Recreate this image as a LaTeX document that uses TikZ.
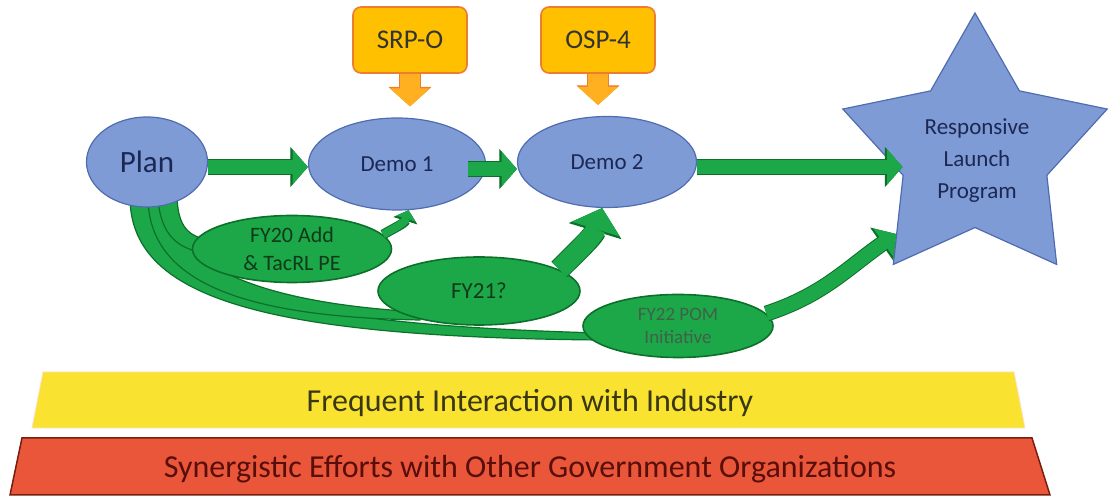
\documentclass[tikz,border=0pt]{standalone}
\usepackage{fontspec}
\setmainfont{Carlito}
\usetikzlibrary{shapes.geometric,arrows.meta,calc}
\pgfdeclarelayer{background}
\pgfsetlayers{background,main}

\definecolor{bubblefill}{RGB}{126,155,214}
\definecolor{bubbleedge}{RGB}{80,108,176}
\definecolor{navytext}{RGB}{28,40,84}
\definecolor{flowgreen}{RGB}{28,168,72}
\definecolor{flowedge}{RGB}{12,112,42}
\definecolor{fundtext}{RGB}{16,58,26}
\definecolor{orangefill}{RGB}{255,192,0}
\definecolor{orangeedge}{RGB}{237,125,49}
\definecolor{feedfill}{RGB}{255,176,32}
\definecolor{bandyellow}{RGB}{250,226,48}
\definecolor{bandred}{RGB}{233,86,58}
\definecolor{bandrededge}{RGB}{120,30,14}
\definecolor{yellowtext}{RGB}{58,56,18}
\definecolor{redtext}{RGB}{88,14,10}

\tikzset{
	bubble/.style={ellipse, draw=bubbleedge, fill=bubblefill, line width=1.2pt, inner sep=0pt, text=navytext},
	fund/.style={ellipse, draw=flowedge, fill=flowgreen, line width=1.6pt, inner sep=0pt, text=fundtext, align=center},
	mission/.style={rectangle, rounded corners=8pt, draw=orangeedge, fill=orangefill, line width=1.6pt, minimum width=114pt, minimum height=66pt, text=black!80, font=\fontsize{27}{30}\selectfont},
	flow/.style={draw=flowgreen, line width=#1, -{Triangle[length=0pt 1.1, width=0pt 2.5, line width=1pt]}, preaction={draw=flowedge, line width=#1+2pt}},
	feed/.style={draw=feedfill, line width=20pt, shorten >=11pt, -{Triangle[length=18pt, width=40pt, line width=1pt]}, preaction={draw=orangeedge, line width=22pt, -{Triangle[length=19.5pt, width=43pt, line width=1pt]}}},
	stream/.style={fill=flowgreen, draw=flowedge, line width=1.2pt},
}

\begin{document}
\begin{tikzpicture}[x=1pt, y=1pt]
	\useasboundingbox (0,0) rectangle (1112,497);

	\node[bubble, minimum width=121pt, minimum height=90pt, font=\fontsize{31}{34}\selectfont] (plan) at (147,335) {Plan};
	\node[bubble, minimum width=177pt, minimum height=92pt, font=\fontsize{23}{26}\selectfont] (demo1) at (397,333) {Demo 1};
	\node[bubble, minimum width=179pt, minimum height=91pt, font=\fontsize{23}{26}\selectfont] (demo2) at (607,335) {Demo 2};
	\node[star, star points=5, star point ratio=1.84, minimum size=278pt, inner sep=0pt, draw=bubbleedge, fill=bubblefill, line width=1.2pt] (rlp) at (975,345) {};
	\node[text=navytext, align=center, font=\fontsize{23}{32}\selectfont] (rlptext) at (977,336) {Responsive\\Launch\\Program};

	\node[mission] (srpo) at (410,457) {SRP-O};
	\node[mission] (osp4) at (598,457) {OSP-4};

	\begin{pgfonlayer}{background}
		% to FY22
		\path[stream] (130,300) .. controls (130,200) and (260,160) .. (600,157) -- (600,164) .. controls (260,173) and (150,215) .. (150,300) -- cycle;
		% to FY21
		\path[stream] (148,300) .. controls (148,212) and (250,180) .. (420,177) -- (420,185) .. controls (240,195) and (168,240) .. (168,300) -- cycle;
		% to FY20
		\path[stream] (158,300) .. controls (160,262) and (178,248) .. (205,244) -- (205,258) .. controls (185,262) and (178,275) .. (177,300) -- cycle;
	\end{pgfonlayer}

	\node[fund, minimum width=199pt, minimum height=67pt, font=\fontsize{22}{28}\selectfont] (fy20) at (292,248) {FY20 Add\\\& TacRL PE};
	\node[fund, minimum width=202pt, minimum height=68pt, font=\fontsize{23}{26}\selectfont] (fy21) at (479,206) {FY21?};
	\node[fund, minimum width=190pt, minimum height=63pt, font=\fontsize{19}{23}\selectfont, text=fundtext!80] (fy22) at (678,171) {FY22 POM\\Initiative};

	\path ([yshift=-5pt]plan.east) edge[flow=14pt] ([yshift=-5pt]plan.east -| demo1.west);
	\path ([xshift=-18pt,yshift=-5pt]demo1.east) edge[flow=14pt] ([yshift=-5pt]demo1.east -| demo2.west);
	\path ([yshift=-5pt]demo2.east) edge[flow=14pt] ([yshift=-5pt]demo2.east -| rlp.inner point 2);
	\path (fy20.9) edge[flow=8pt, out=30, in=-107] (demo1.-76);
	\path (fy21.15) edge[flow=20pt, out=45, in=-107] (demo2.-96);
	\path (fy22.8) edge[flow=14pt, out=18, in=-145] ($(rlp.inner point 2)!0.65!(rlp.outer point 3)$);
	\path (srpo) edge[feed] (srpo.south |- demo1.north);
	\path (osp4) edge[feed] (osp4.south |- demo2.north);

	\filldraw[fill=bandyellow, draw=orange!25, line width=0.8pt] (43,125) -- (1014,125) -- (1025,69) -- (32,69) -- cycle;
	\filldraw[fill=bandred, draw=bandrededge, line width=1.5pt] (22,59) -- (1032,59) -- (1050,2) -- (10,2) -- cycle;
	\node[text=yellowtext, font=\fontsize{32}{36}\selectfont] (industry) at (530,94) {Frequent Interaction with Industry};
	\node[text=redtext, font=\fontsize{32}{36}\selectfont] (government) at (530,28) {Synergistic Efforts with Other Government Organizations};
\end{tikzpicture}
\end{document}
